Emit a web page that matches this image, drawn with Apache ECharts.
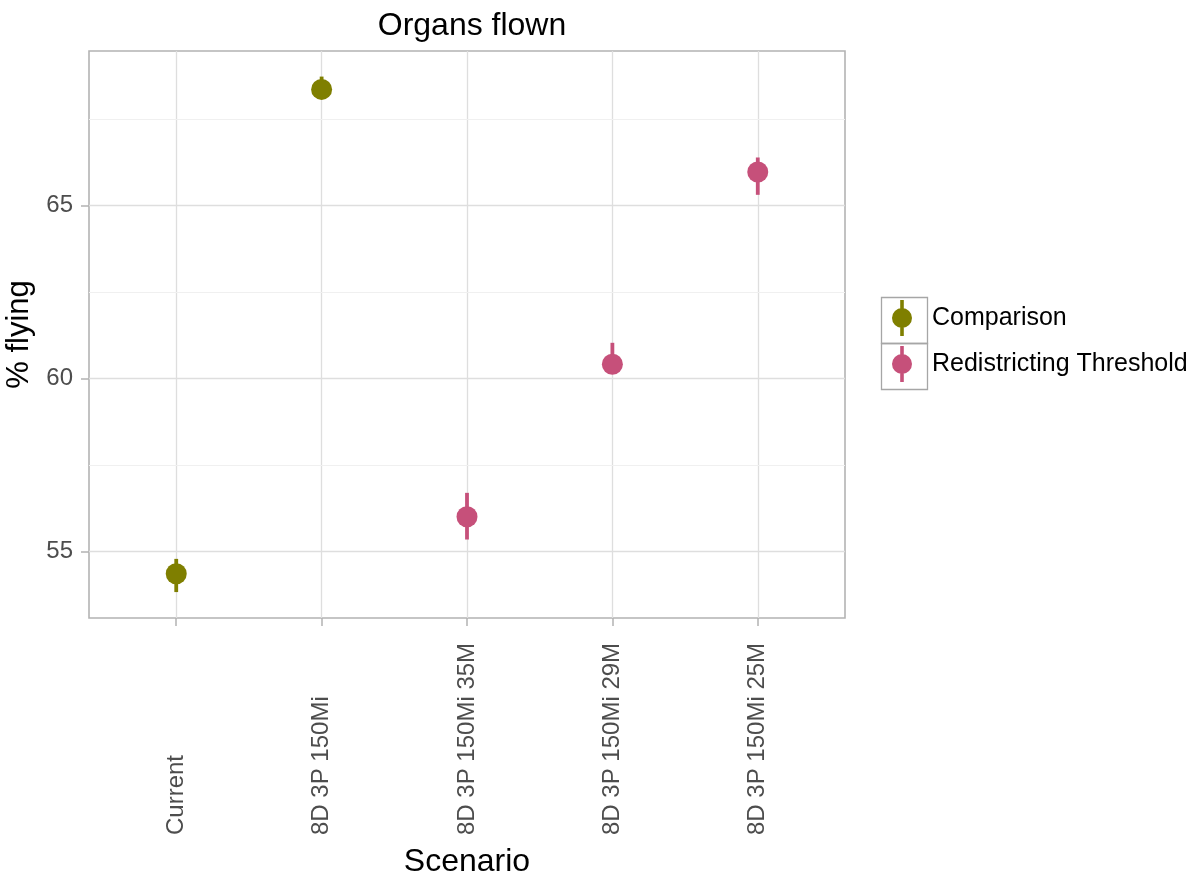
<!DOCTYPE html>
<html>
<head>
<meta charset="utf-8">
<script src="https://cdn.jsdelivr.net/npm/echarts@6/dist/echarts.min.js"></script>
<style>
  html, body { margin: 0; padding: 0; background: #fff; }
  #chart { width: 1194px; height: 881px; }
</style>
</head>
<body>
<div id="chart"></div>
<script>
// Scenarios along the x axis
const categories = ['Current', '8D 3P 150Mi', '8D 3P 150Mi 35M', '8D 3P 150Mi 29M', '8D 3P 150Mi 25M'];
// Scenario group for each category
const groups = ['Comparison', 'Comparison', 'Redistricting Threshold', 'Redistricting Threshold', 'Redistricting Threshold'];
// Mean % of organs flown, with interval bounds
const meanValues = [54.35, 68.36, 56.00, 60.41, 65.97];
const lowerValues = [53.82, 68.08, 55.34, 60.15, 65.31];
const upperValues = [54.78, 68.73, 56.69, 61.03, 66.39];
// Axis ticks
const yMajorTicks = [55, 60, 65];
const yMinorTicks = [57.5, 62.5, 67.5];
const groupNames = ['Comparison', 'Redistricting Threshold'];
const groupColors = ['#7f7f00', '#c6507a'];

const FONT = '"Liberation Sans", Arial, sans-serif';
const xPositions = categories.map((c, i) => i);

function pointsFor(group) {
  const out = [];
  categories.forEach((c, i) => {
    if (groups[i] === group) out.push([i, meanValues[i]]);
  });
  return out;
}
function barsFor(group) {
  const out = [];
  categories.forEach((c, i) => {
    if (groups[i] === group) out.push([i, lowerValues[i], upperValues[i]]);
  });
  return out;
}

// legend key: point with a vertical interval line, inside a 46x46 frame
const keyIcon = 'path://M0,0h0.01v0.01h-0.01z M45.99,45.99h0.01v0.01h-0.01z ' +
  'M21.2,5h3.6v36h-3.6z M13,23a10,10 0 1,1 20,0a10,10 0 1,1 -20,0z';

const series = [];
groupNames.forEach((g, gi) => {
  series.push({
    name: g,
    type: 'custom',
    xAxisIndex: 0,
    yAxisIndex: 0,
    data: barsFor(g),
    itemStyle: { color: groupColors[gi] },
    renderItem: function (params, api) {
      const x = api.value(0);
      const p1 = api.coord([x, api.value(1)]);
      const p2 = api.coord([x, api.value(2)]);
      return {
        type: 'line',
        shape: { x1: p1[0], y1: p1[1], x2: p2[0], y2: p2[1] },
        style: { stroke: groupColors[gi], lineWidth: 3.8 }
      };
    },
    z: 3,
    silent: true
  });
  series.push({
    name: g,
    type: 'scatter',
    xAxisIndex: 0,
    yAxisIndex: 0,
    data: pointsFor(g),
    symbol: 'circle',
    symbolSize: 21,
    itemStyle: { color: groupColors[gi], opacity: 1 },
    z: 4,
    silent: true
  });
});

// minor horizontal grid lines
series.push({
  type: 'line',
  data: [],
  silent: true,
  markLine: {
    silent: true,
    symbol: ['none', 'none'],
    label: { show: false },
    lineStyle: { color: '#f0f0f0', width: 1, type: 'solid' },
    data: yMinorTicks.map(v => ({ yAxis: v }))
  },
  z: 1
});

const chart = echarts.init(document.getElementById('chart'), null, { renderer: 'canvas' });
chart.setOption({
  animation: false,
  backgroundColor: '#ffffff',
  title: {
    text: 'Organs flown',
    left: 467,
    top: 5,
    textAlign: 'center',
    textStyle: { fontFamily: FONT, fontSize: 32, fontWeight: 'normal', color: '#000' }
  },
  grid: {
    left: 89, top: 51, right: 349, bottom: 263,
    containLabel: false,
    outerBoundsMode: 'none',
    show: true,
    borderColor: '#b3b3b3',
    borderWidth: 1.6,
    backgroundColor: 'transparent'
  },
  legend: {
    orient: 'vertical',
    left: 879,
    top: 295,
    itemWidth: 46,
    itemHeight: 46,
    itemGap: 0,
    padding: 0,
    icon: keyIcon,
    data: groupNames.map((g, gi) => ({ name: g, icon: keyIcon, itemStyle: { color: groupColors[gi] } })),
    textStyle: { fontFamily: FONT, fontSize: 25, color: '#000', padding: [0, 0, 0, 2] },
    selectedMode: false
  },
  graphic: [
    { type: 'rect', left: 879, top: 295, shape: { width: 46, height: 46 }, style: { fill: 'none', stroke: '#a6a6a6', lineWidth: 1.3 }, z: 100, silent: true },
    { type: 'rect', left: 879, top: 341, shape: { width: 46, height: 46 }, style: { fill: 'none', stroke: '#a6a6a6', lineWidth: 1.3 }, z: 100, silent: true }
  ],
  xAxis: {
    type: 'value',
    min: -0.6,
    max: 4.6,
    name: 'Scenario',
    nameLocation: 'middle',
    nameGap: 228,
    nameTextStyle: { fontFamily: FONT, fontSize: 32, color: '#000' },
    axisLine: { show: false, onZero: false },
    axisTick: { show: true, length: 8, lineStyle: { color: '#b3b3b3', width: 1.5 }, customValues: xPositions },
    axisLabel: {
      show: true,
      customValues: xPositions,
      rotate: 90,
      align: 'left',
      verticalAlign: 'middle',
      margin: 217,
      fontFamily: FONT,
      fontSize: 24,
      color: '#4d4d4d',
      formatter: function (v) { return categories[Math.round(v)]; }
    },
    splitLine: { show: true, lineStyle: { color: '#dedede', width: 1.3 } }
  },
  yAxis: {
    type: 'value',
    min: 53.07,
    max: 69.47,
    name: '% flying',
    nameLocation: 'middle',
    nameGap: 48,
    nameRotate: 90,
    nameTextStyle: { fontFamily: FONT, fontSize: 31, color: '#000' },
    axisLine: { show: false, onZero: false },
    axisTick: { show: true, length: 8, lineStyle: { color: '#b3b3b3', width: 1.5 }, customValues: yMajorTicks },
    axisLabel: {
      show: true,
      customValues: yMajorTicks,
      margin: 16,
      fontFamily: FONT,
      fontSize: 24,
      color: '#4d4d4d'
    },
    splitLine: { show: true, lineStyle: { color: '#dedede', width: 1.3 } }
  },
  series: series
});
</script>
</body>
</html>
